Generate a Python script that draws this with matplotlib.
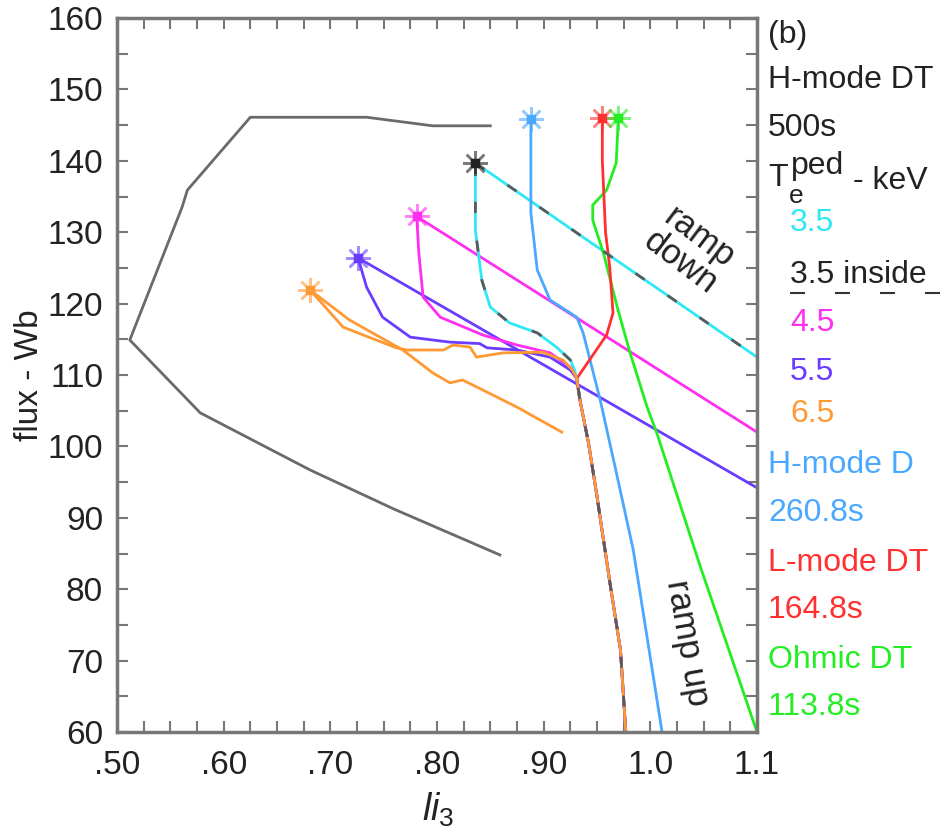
import matplotlib
matplotlib.use("Agg")
import matplotlib.pyplot as plt
from matplotlib.lines import Line2D
from matplotlib.ticker import MultipleLocator, FixedLocator, FixedFormatter

plt.rcParams["font.family"] = ["Liberation Sans", "DejaVu Sans"]
plt.rcParams["mathtext.fontset"] = "custom"
plt.rcParams["mathtext.rm"] = "Liberation Sans"
plt.rcParams["mathtext.it"] = "Liberation Sans:italic"

# ---- data (li3, flux in Wb) ----
# outer boundary curve
bound_li = [0.850, 0.796, 0.734, 0.625, 0.566, 0.561, 0.512, 0.578, 0.681, 0.760, 0.859]
bound_flux = [144.9, 144.9, 146.1, 146.1, 135.9, 133.5, 114.9, 104.7, 96.7, 91.2, 84.8]

# ramp-up path shared by the H-mode DT and L-mode DT cases
rampup_li = [0.931, 0.934, 0.942, 0.950, 0.962, 0.972, 0.977]
rampup_flux = [109.5, 106.5, 100.5, 93.0, 81.0, 71.5, 60.0]

# H-mode DT 500s, Te_ped = 3.5 keV (and 3.5 inside)
c35_flat_li = [0.836, 0.836, 0.842, 0.850, 0.868, 0.894, 0.912, 0.925, 0.929, 0.931]
c35_flat_flux = [139.7, 130.3, 123.3, 119.5, 117.3, 115.9, 113.9, 112.1, 110.7, 109.5]
c35_down_li = [0.836, 1.10]
c35_down_flux = [139.7, 112.5]

# 4.5 keV
c45_flat_li = [0.781, 0.783, 0.787, 0.803, 0.843, 0.875, 0.906, 0.925, 0.931]
c45_flat_flux = [132.2, 127.0, 120.9, 118.1, 115.6, 114.2, 113.1, 111.1, 109.5]
c45_down_li = [0.781, 1.10]
c45_down_flux = [132.2, 102.0]

# 5.5 keV
c55_flat_li = [0.726, 0.734, 0.749, 0.775, 0.812, 0.840, 0.847, 0.875, 0.906, 0.925, 0.931]
c55_flat_flux = [126.4, 122.3, 118.1, 115.3, 114.6, 114.4, 113.8, 113.5, 112.5, 110.7, 109.5]
c55_down_li = [0.726, 1.10]
c55_down_flux = [126.4, 94.2]

# 6.5 keV
c65_flat_li = [0.681, 0.712, 0.762, 0.772, 0.806, 0.815, 0.831, 0.837, 0.862, 0.899, 0.918, 0.927, 0.931]
c65_flat_flux = [121.9, 116.7, 113.8, 113.5, 113.5, 114.2, 113.9, 112.5, 113.1, 113.2, 112.1, 110.7, 109.5]
c65_down_li = [0.681, 0.718, 0.768, 0.796, 0.812, 0.824, 0.843, 0.875, 0.917]
c65_down_flux = [121.9, 117.7, 113.5, 110.3, 108.9, 109.3, 107.9, 105.5, 102.0]

# H-mode D 260.8s
hd_li = [0.888, 0.888, 0.894, 0.906, 0.931, 0.937, 0.953, 0.967, 0.984, 1.011]
hd_flux = [145.9, 132.7, 124.7, 120.5, 118.1, 115.9, 106.5, 97.1, 85.5, 60.0]

# L-mode DT 164.8s
ld_li = [0.955, 0.955, 0.958, 0.962, 0.965, 0.959, 0.931]
ld_flux = [146.0, 140.0, 130.0, 125.0, 118.7, 115.6, 109.5]

# Ohmic DT 113.8s
oh_li = [0.970, 0.968, 0.959, 0.946, 0.946, 0.956, 0.969, 0.981, 0.997, 1.006, 1.047, 1.100]
oh_flux = [146.0, 139.7, 135.9, 133.8, 131.7, 127.1, 119.5, 113.1, 105.5, 101.9, 83.1, 60.0]

x_ticks = [0.5, 0.6, 0.7, 0.8, 0.9, 1.0, 1.1]
x_labels = [".50", ".60", ".70", ".80", ".90", "1.0", "1.1"]

CYAN = "#2ee8f5"
MAG = "#ff2ef0"
PURP = "#6a3cff"
ORNG = "#ff9933"
LBLUE = "#4aa8ff"
RED = "#ff3030"
GREEN = "#22ee22"
GRAY = "#5a5a5a"
TXT = "#222222"

fig = plt.figure(figsize=(9.51, 8.35), dpi=100)
ax = fig.add_axes([117 / 951, 1 - 732 / 835, 640 / 951, 714 / 835])

lw = 2.0
ax.plot(bound_li, bound_flux, color="#6a6a6a", lw=lw)

# ramp-down lines
ax.plot(c35_down_li, c35_down_flux, color=CYAN, lw=lw)
ax.plot(c45_down_li, c45_down_flux, color=MAG, lw=lw)
ax.plot(c55_down_li, c55_down_flux, color=PURP, lw=lw)
ax.plot(c65_down_li, c65_down_flux, color=ORNG, lw=lw)

ax.plot(oh_li, oh_flux, color=GREEN, lw=lw)
ax.plot(hd_li, hd_flux, color=LBLUE, lw=lw)
ax.plot(ld_li + rampup_li, ld_flux + rampup_flux, color=RED, lw=lw)
ax.plot(c35_flat_li + rampup_li, c35_flat_flux + rampup_flux, color=CYAN, lw=lw)
ax.plot(c45_flat_li + rampup_li, c45_flat_flux + rampup_flux, color=MAG, lw=lw)
ax.plot(c55_flat_li + rampup_li, c55_flat_flux + rampup_flux, color=PURP, lw=lw)
ax.plot(c65_flat_li + rampup_li, c65_flat_flux + rampup_flux, color=ORNG, lw=lw)

# 3.5 inside: dashed dark line over the 3.5 keV path
ax.plot(c35_flat_li + rampup_li, c35_flat_flux + rampup_flux, color=GRAY, lw=lw, dashes=(4, 10))
ax.plot(c35_down_li, c35_down_flux, color=GRAY, lw=lw, dashes=(4, 10))

# star markers at the start of flattop
stars = [
    (c35_flat_li[0], c35_flat_flux[0], "#222222"),
    (c45_flat_li[0], c45_flat_flux[0], MAG),
    (c55_flat_li[0], c55_flat_flux[0], PURP),
    (c65_flat_li[0], c65_flat_flux[0], ORNG),
    (hd_li[0], hd_flux[0], LBLUE),
    (ld_li[0], ld_flux[0], RED),
    (oh_li[0], oh_flux[0], GREEN),
]
for sx, sy, sc in stars:
    ax.plot(sx, sy, marker=(8, 2, 0), ms=18, mew=1.8, color=sc, alpha=0.6, zorder=5)
    ax.plot(sx, sy, marker="s", ms=6, color=sc, zorder=6)

ax.text(1.037, 127.5, "ramp\ndown", rotation=-37, rotation_mode="anchor",
        ha="center", va="center", fontsize=25, color=TXT, linespacing=0.95)
ax.text(1.035, 72.5, "ramp up", rotation=-80, rotation_mode="anchor",
        ha="center", va="center", fontsize=25, color=TXT)

ax.set_xlim(0.5, 1.1)
ax.set_ylim(60, 160)
ax.xaxis.set_major_locator(FixedLocator(x_ticks))
ax.xaxis.set_major_formatter(FixedFormatter(x_labels))
ax.xaxis.set_minor_locator(MultipleLocator(0.025))
ax.yaxis.set_major_locator(MultipleLocator(10))
ax.yaxis.set_minor_locator(MultipleLocator(5))
ax.tick_params(which="both", direction="in", top=True, right=True,
               length=8, width=1.5, color="#777777")
ax.tick_params(axis="x", which="major", labelsize=24, pad=13, labelcolor=TXT)
ax.tick_params(axis="y", which="major", labelsize=24, pad=10, labelcolor=TXT)
for sp in ax.spines.values():
    sp.set_color("#777777")
    sp.set_linewidth(2.5)

fig.text(30 / 951, 1 - 375 / 835, "flux - Wb", rotation=90, ha="center", va="center",
         fontsize=24, color=TXT)
fig.text(438 / 951, 1 - 810 / 835, r"$li_3$", ha="center", va="center",
         fontsize=27, color=TXT)

# right-hand legend text
tx = 768 / 951
tx2 = 790 / 951
legend_rows = [
    (tx, 35, "(b)", TXT),
    (tx, 80, "H-mode DT", TXT),
    (tx, 128, "500s", TXT),
    (tx2, 223, "3.5", CYAN),
    (tx2, 275, "3.5 inside", TXT),
    (tx2, 323, "4.5", MAG),
    (tx2, 372, "5.5", PURP),
    (tx2, 414, "6.5", ORNG),
    (tx, 465, "H-mode D", LBLUE),
    (tx, 513, "260.8s", LBLUE),
    (tx, 563, "L-mode DT", RED),
    (tx, 610, "164.8s", RED),
    (tx, 660, "Ohmic DT", GREEN),
    (tx, 707, "113.8s", GREEN),
]
for lx, ly, s, c in legend_rows:
    fig.text(lx, 1 - ly / 835, s, ha="left", va="center", fontsize=23, color=c)

# T_e^ped - keV built from pieces so the superscript stays large
fig.text(tx, 1 - 178 / 835, "T", ha="left", va="center", fontsize=23, color=TXT)
fig.text(789 / 951, 1 - 196 / 835, "e", ha="left", va="center", fontsize=19, color=TXT)
fig.text(791 / 951, 1 - 166 / 835, "ped", ha="left", va="center", fontsize=23, color=TXT)
fig.text(853 / 951, 1 - 181 / 835, "- keV", ha="left", va="center", fontsize=23, color=TXT)

fig.add_artist(Line2D([790 / 951, 945 / 951], [1 - 293 / 835, 1 - 293 / 835],
                      color="#333333", lw=1.5, dashes=(7.2, 14.4)))

fig.savefig("out.png", dpi=100)
